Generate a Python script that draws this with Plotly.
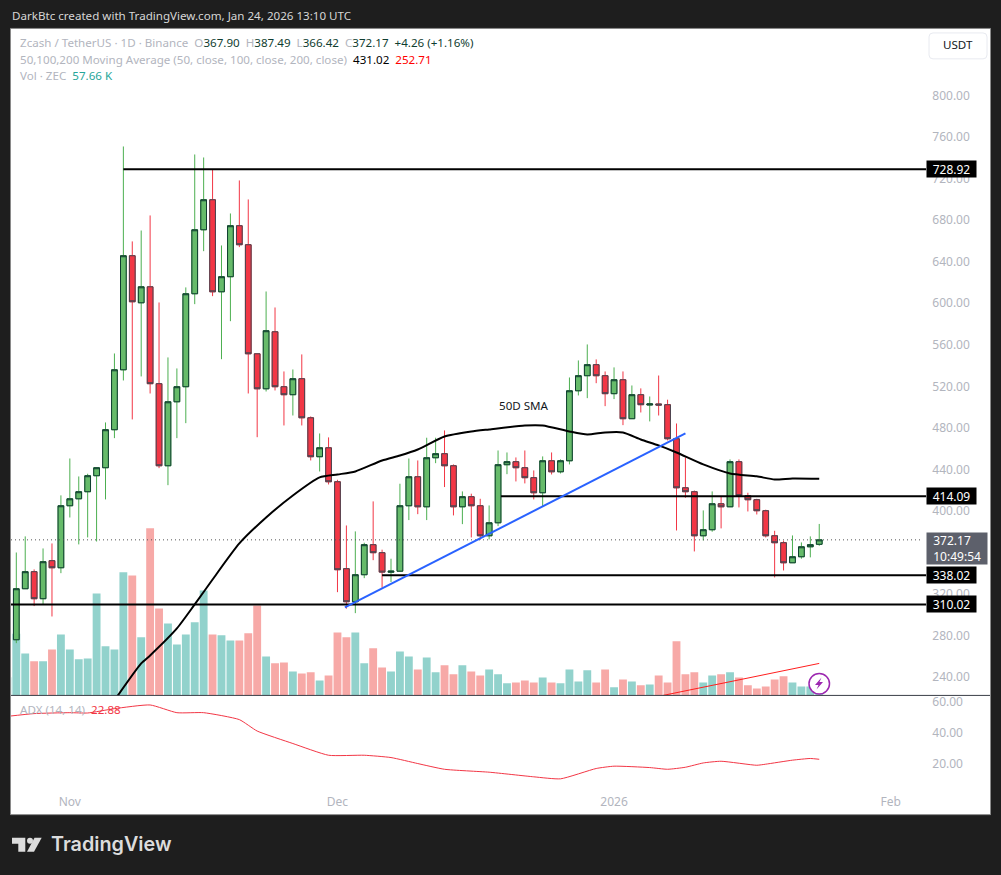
import pandas as pd
import plotly.graph_objects as go

# ZEC/USDT daily candles
first_day = "2025-10-26"
opens = [276.0, 325.1, 341.5, 315.5, 352.1, 345.3, 405.0, 411.7, 418.5, 433.9, 441.6, 478.2, 535.9, 645.7, 600.4,
         615.8, 522.5, 443.5, 505.1, 519.6, 609.1, 670.7, 699.6, 611.0, 625.5, 674.6, 656.3, 551.3, 517.6, 572.5,
         519.6, 511.9, 527.3, 489.7, 452.2, 460.8, 428.1, 344.4, 312.6, 338.6, 367.5, 359.8, 341.0, 342.0, 405.0,
         432.9, 404.0, 451.2, 455.1, 443.5, 404.0, 413.7, 405.0, 376.1, 388.6, 444.5, 447.4, 441.6, 432.0, 417.5,
         448.3, 437.7, 448.3, 515.7, 530.2, 540.8, 530.2, 512.9, 526.3, 488.8, 511.9, 502.0, 503.0, 502.3, 469.5,
         422.3, 418.5, 376.1, 381.9, 406.9, 404.0, 447.4, 414.7, 410.8, 400.2, 376.1, 369.4, 350.1, 355.9, 365.5, 367.90]
highs = [360.0, 375.5, 343.7, 363.9, 368.7, 415.0, 450.5, 433.2, 435.8, 441.6, 485.2, 551.6, 750.9, 659.5, 670.0,
         684.5, 600.7, 547.8, 537.2, 615.2, 743.2, 740.3, 728.8, 655.6, 686.4, 718.2, 699.9, 551.3, 611.3, 595.9,
         534.3, 536.2, 550.7, 491.0, 474.6, 470.8, 430.0, 386.0, 380.3, 369.4, 409.2, 362.7, 354.0, 426.2, 450.5,
         448.6, 470.5, 470.5, 477.5, 444.8, 418.8, 416.6, 411.7, 405.3, 458.2, 456.3, 451.5, 458.2, 439.0, 452.5,
         456.3, 449.6, 528.5, 544.9, 560.3, 545.9, 534.3, 538.2, 534.3, 520.8, 518.0, 510.2, 530.4, 507.1, 484.2,
         451.5, 419.7, 400.5, 418.8, 414.0, 449.6, 449.6, 417.5, 411.7, 401.2, 380.9, 371.3, 376.4, 369.7, 375.5, 387.49]
lows = [272.7, 325.1, 308.4, 310.3, 298.4, 340.1, 393.7, 367.8, 374.5, 370.6, 411.1, 470.1, 525.6, 488.1, 529.5,
        513.1, 441.2, 424.8, 470.1, 484.5, 599.1, 650.1, 606.8, 546.1, 582.7, 654.0, 513.1, 471.0, 515.0, 516.0,
        482.3, 491.9, 482.3, 448.6, 438.0, 425.5, 321.8, 305.9, 301.6, 335.3, 352.6, 326.1, 331.5, 342.0, 391.2,
        396.9, 391.2, 446.0, 423.0, 395.7, 387.3, 374.5, 372.3, 372.6, 385.4, 435.4, 428.4, 426.5, 411.1, 404.6,
        435.1, 436.1, 444.8, 511.2, 508.6, 523.0, 500.9, 507.7, 482.6, 488.8, 494.8, 486.2, 491.9, 467.9, 381.2,
        412.7, 361.0, 371.6, 380.0, 383.2, 404.0, 403.4, 399.5, 396.6, 374.5, 336.0, 342.7, 350.1, 354.0, 355.3, 366.42]
closes = [325.1, 341.5, 315.5, 351.1, 345.3, 405.0, 411.7, 418.5, 433.9, 441.6, 478.2, 535.9, 645.7, 601.4, 615.8,
          522.5, 443.5, 505.1, 519.6, 609.1, 670.7, 699.6, 611.0, 625.5, 674.6, 656.3, 551.3, 517.6, 573.5, 519.6,
          511.9, 527.3, 489.7, 452.2, 460.8, 428.1, 343.4, 312.6, 338.6, 367.5, 359.8, 341.1, 342.0, 405.0, 432.9,
          404.0, 451.2, 455.1, 443.5, 404.0, 413.7, 405.0, 376.1, 388.6, 444.5, 447.4, 441.6, 432.0, 417.5, 448.3,
          437.7, 448.3, 515.7, 530.2, 540.8, 530.2, 512.9, 526.3, 488.8, 511.9, 502.3, 503.0, 502.0, 469.5, 422.3,
          418.5, 376.1, 381.9, 406.9, 404.0, 447.4, 414.7, 410.8, 400.2, 376.1, 369.4, 350.1, 355.9, 365.5, 367.5, 372.17]

# volume in thousands of ZEC, the first bar is the day before the first candle
volumes = [630, 2130, 1450, 1180, 1180, 1590, 2110, 1590, 1250, 1280, 3530, 1700, 1590, 4260, 4150, 2010,
           5780, 3010, 2490, 1760, 2110, 2530, 3630, 2110, 2080, 1900, 1900, 2150, 3110, 1350, 1110, 1140,
           830, 760, 800, 520, 690, 2180, 2010, 2180, 1110, 1630, 970, 830, 1520, 1350, 900, 1310,
           800, 1040, 730, 1040, 830, 690, 900, 730, 420, 450, 520, 450, 620, 450, 420, 900,
           480, 870, 450, 900, 280, 550, 480, 350, 380, 690, 450, 1870, 730, 800, 450, 690,
           730, 800, 620, 350, 240, 310, 550, 660, 450, 310, 310, 57.66]

# 50 day SMA, read at these candle numbers
sma_days = [11, 14, 15, 18, 20, 22, 25, 28, 31, 34, 36, 38, 41, 43, 45, 48, 51, 53, 57, 59, 62, 64, 66, 68, 70, 72,
            74, 77, 80, 83, 85, 87, 90]
sma_values = [217.6, 253.2, 260.9, 286.9, 310.0, 334.0, 368.7, 393.7, 414.9, 432.3, 435.1, 438.0, 448.6, 453.4,
              459.2, 471.7, 476.5, 478.5, 482.3, 482.3, 476.5, 473.6, 475.6, 475.6, 468.8, 463.1, 456.3, 444.8,
              436.1, 433.3, 430.3, 431.3, 431.02]

adx_days = [-1, 2, 6, 8, 11, 15, 18, 21, 25, 27, 31, 35, 39, 42, 45, 48, 53, 58, 61, 65, 67, 71, 73, 75, 77, 79,
            83, 84, 87, 89, 90]
adx_values = [50.7, 52.5, 53.1, 52.9, 55.7, 58.1, 53.1, 53.1, 48.6, 41.2, 33.1, 25.5, 25.5, 24.0, 20.1, 16.4, 14.5,
              11.5, 10.2, 16.9, 18.4, 17.5, 16.4, 17.7, 20.5, 21.6, 19.0, 19.7, 22.3, 23.4, 22.88]

# horizontal levels: price, first day, tag text
level_prices = [728.92, 414.09, 338.02, 310.02]
level_starts = ["2025-11-07", "2025-12-19 08:00", "2025-12-06", "2025-10-25 09:45"]
last_price = 372.17

blue_dates = ["2025-12-01 20:00", "2026-01-09"]
blue_prices = [307.1, 474.6]
red_dates = ["2026-01-06 12:00", "2026-01-24"]
red_prices = [222.4, 253.2]

x_tick_dates = ["2025-11-01", "2025-12-01", "2026-01-01", "2026-02-01"]
x_tick_labels = ["Nov", "Dec", "2026", "Feb"]
price_ticks = [240, 280, 320, 360, 400, 440, 480, 520, 560, 600, 640, 680, 720, 760, 800]
adx_ticks = [60, 40, 20]

W, H = 1001, 875
FONT = "Noto Sans"
GRAY = "#b2b5be"
DARK = "#0f3d30"


def px(x):
    return x / W


def py(y):
    return 1 - y / H


def day(n):
    return pd.Timestamp(first_day) + pd.Timedelta(days=n)


def rounded(x0, y0, x1, y1, r):
    return (f"M {px(x0 + r)} {py(y0)} H {px(x1 - r)} Q {px(x1)} {py(y0)} {px(x1)} {py(y0 + r)} "
            f"V {py(y1 - r)} Q {px(x1)} {py(y1)} {px(x1 - r)} {py(y1)} H {px(x0 + r)} "
            f"Q {px(x0)} {py(y1)} {px(x0)} {py(y1 - r)} V {py(y0 + r)} Q {px(x0)} {py(y0)} {px(x0 + r)} {py(y0)} Z")


def poly(points):
    return "M " + " L ".join(f"{px(a)} {py(b)}" for a, b in points) + " Z"


dates = [day(i) for i in range(len(opens))]
vol_dates = [day(i - 1) for i in range(len(volumes))]
vol_colors = ["#92d2cc"] + ["#92d2cc" if c >= o else "#f7a9a7" for o, c in zip(opens, closes)]
range_start = "2025-10-25 09:45"
range_end = "2026-02-05"

fig = go.Figure()

fig.add_trace(go.Bar(x=vol_dates, y=volumes, width=0.88 * 86400000, marker_color=vol_colors, marker_line_width=0,
                     yaxis="y", xaxis="x", hoverinfo="skip"))

# wicks first, then bodies on top so the outline can have its own colour
fig.add_trace(go.Candlestick(x=dates, open=opens, high=highs, low=lows, close=closes, yaxis="y2", xaxis="x",
                             whiskerwidth=0, hoverinfo="skip",
                             increasing=dict(line=dict(color="#4caf50", width=1), fillcolor="#66bb6a"),
                             decreasing=dict(line=dict(color="#f23645", width=1), fillcolor="#f23645")))
fig.add_trace(go.Candlestick(x=dates, open=opens, close=closes, yaxis="y2", xaxis="x",
                             high=[max(o, c) for o, c in zip(opens, closes)],
                             low=[min(o, c) for o, c in zip(opens, closes)],
                             whiskerwidth=0, hoverinfo="skip",
                             increasing=dict(line=dict(color=DARK, width=1), fillcolor="#66bb6a"),
                             decreasing=dict(line=dict(color="#434651", width=1), fillcolor="#f23645")))

fig.add_trace(go.Scatter(x=[range_start, "2026-02-04 12:00"], y=[last_price, last_price], mode="lines", yaxis="y2",
                         line=dict(color="#555", width=1, dash="1px 3px"), hoverinfo="skip"))
fig.add_trace(go.Scatter(x=[day(i) for i in sma_days], y=sma_values, mode="lines", yaxis="y2",
                         line=dict(color="#000000", width=2, shape="spline", smoothing=0.6), hoverinfo="skip"))
for price, start in zip(level_prices, level_starts):
    fig.add_trace(go.Scatter(x=[start, range_end], y=[price, price], mode="lines", yaxis="y2",
                             line=dict(color="#000000", width=2), hoverinfo="skip"))
fig.add_trace(go.Scatter(x=blue_dates, y=blue_prices, mode="lines", yaxis="y2",
                         line=dict(color="#2962ff", width=2), hoverinfo="skip"))
fig.add_trace(go.Scatter(x=red_dates, y=red_prices, mode="lines", yaxis="y2",
                         line=dict(color="#ff1e1e", width=1), hoverinfo="skip"))
fig.add_trace(go.Scatter(x=[day(i) for i in adx_days], y=adx_values, mode="lines", yaxis="y3",
                         line=dict(color="#f23645", width=1, shape="spline", smoothing=0.5), hoverinfo="skip"))

shapes = [
    dict(type="rect", xref="paper", yref="paper", x0=px(10.5), x1=px(990.5), y0=py(814.5), y1=py(26.5),
         fillcolor="#ffffff", line=dict(color="#8a8a8a", width=1), layer="below"),
    dict(type="line", xref="paper", yref="paper", x0=px(11), x1=px(990), y0=py(695), y1=py(695),
         line=dict(color="#3a3e47", width=1), layer="above"),
    dict(type="path", xref="paper", yref="paper", path=rounded(929, 31, 987, 57, 4),
         fillcolor="#ffffff", line=dict(color="#e8eaf0", width=1), layer="above"),
    dict(type="circle", xref="paper", yref="paper", x0=px(809), x1=px(829.5), y0=py(693.5), y1=py(673),
         fillcolor="#ffffff", line=dict(color="#9c27b0", width=1.5), layer="above"),
    dict(type="path", xref="paper", yref="paper", layer="above", line_width=0, fillcolor="#9c27b0",
         path=poly([(821.5, 677), (815, 684.5), (818.5, 684.5), (816.5, 689), (823, 681.5), (819.5, 681.5)])),
    # TradingView mark
    dict(type="path", xref="paper", yref="paper", layer="above", line_width=0, fillcolor="#dcdcdc",
         path=poly([(12, 837.7), (25.3, 837.7), (25.3, 851.7), (18.3, 851.7), (18.3, 843.7), (12, 843.7)])),
    dict(type="circle", xref="paper", yref="paper", layer="above", line_width=0, fillcolor="#dcdcdc",
         x0=px(27), x1=px(33), y0=py(843.8), y1=py(837.7)),
    dict(type="path", xref="paper", yref="paper", layer="above", line_width=0, fillcolor="#dcdcdc",
         path=poly([(34.5, 837.7), (41.7, 837.7), (34, 851.7), (27, 851.7)])),
]


def note(text, x, y, size=11.6, color=GRAY, anchor="left", family=FONT):
    return dict(text=text, x=px(x), y=py(y), xref="paper", yref="paper", showarrow=False, xanchor=anchor,
                yanchor="middle", font=dict(family=family, size=size, color=color))


def c(text, color):
    return f'<span style="color:{color}">{text}</span>'


annotations = [
    note("DarkBtc created with TradingView.com, Jan 24, 2026 13:10 UTC", 10, 13.5, color="#d6d6d6"),
    note("Zcash / TetherUS · 1D · Binance&nbsp;&nbsp;O" + c("367.90", DARK) + "&nbsp;&nbsp;H" + c("387.49", DARK)
         + "&nbsp;&nbsp;L" + c("366.42", DARK) + "&nbsp;&nbsp;C" + c("372.17", DARK) + "&nbsp;&nbsp;"
         + c("+4.26 (+1.16%)", DARK), 18, 40.5),
    note("50,100,200 Moving Average (50, close, 100, close, 200, close)&nbsp;&nbsp;" + c("431.02", "#000000")
         + "&nbsp;&nbsp;" + c("252.71", "#ff0000"), 18, 57.5),
    note("Vol · ZEC&nbsp;&nbsp;" + c("57.66 K", "#26a69a"), 18, 74),
    note("ADX (14, 14)&nbsp;&nbsp;" + c("22.88", "#f23645"), 18, 709.5),
    note("USDT", 958, 43, color="#131722", anchor="center"),
    note("50D SMA", 524, 404.5, color="#131722", anchor="center"),
    note("TradingView", 49, 844, size=19.8, color="#dcdcdc", family="Inter"),
]
annotations[-1]["font"]["weight"] = 600

for price in level_prices:
    annotations.append(dict(text=f"{price:.2f}", x=px(926), y=price, xref="paper", yref="y2", showarrow=False,
                            xanchor="left", yanchor="middle", bgcolor="#000000", width=49, height=16, borderpad=0,
                            font=dict(family=FONT, size=12, color="#ffffff")))
annotations.append(dict(text=f"&nbsp;&nbsp;{last_price:.2f}<br>&nbsp;&nbsp;10:49:54", x=px(926), y=last_price,
                        xref="paper", yref="y2", showarrow=False, xanchor="left", yanchor="top", yshift=8,
                        bgcolor="#5d606b", width=60, height=31, borderpad=0, align="left",
                        font=dict(family=FONT, size=12, color="#ffffff")))

fig.update_layout(
    width=W, height=H, autosize=False,
    margin=dict(l=0, r=0, t=0, b=0),
    paper_bgcolor="#1e1e1e", plot_bgcolor="rgba(0,0,0,0)",
    showlegend=False, boxgap=0.36, boxgroupgap=0,
    shapes=shapes, annotations=annotations,
    xaxis=dict(type="date", domain=[px(11), px(926.3)], range=[range_start, range_end], anchor="y3",
               rangeslider_visible=False, showgrid=False, zeroline=False, showline=False, ticks="",
               tickmode="array", tickvals=x_tick_dates, ticktext=x_tick_labels,
               ticklabelposition="inside", ticklabelstandoff=3, tickfont=dict(family=FONT, size=12, color=GRAY)),
    yaxis=dict(domain=[py(695), py(25.5)], range=[0, 23113], visible=False, fixedrange=True),
    yaxis2=dict(domain=[py(695), py(25.5)], range=[222.4, 865.5], overlaying="y", side="right", anchor="x",
                showgrid=False, zeroline=False, showline=False, ticks="", tickmode="array", tickvals=price_ticks,
                tickformat=".2f", ticklabelstandoff=5, tickfont=dict(family=FONT, size=12, color=GRAY)),
    yaxis3=dict(domain=[py(814), py(695)], range=[-12.7, 64.3], side="right", anchor="x",
                showgrid=False, zeroline=False, showline=False, ticks="", tickmode="array", tickvals=adx_ticks,
                tickformat=".2f", ticklabelstandoff=5, tickfont=dict(family=FONT, size=12, color=GRAY)),
)

fig.write_html("out.html", config=dict(displayModeBar=False),
               post_script="document.body.style.margin='0';document.documentElement.style.overflow='hidden';")
